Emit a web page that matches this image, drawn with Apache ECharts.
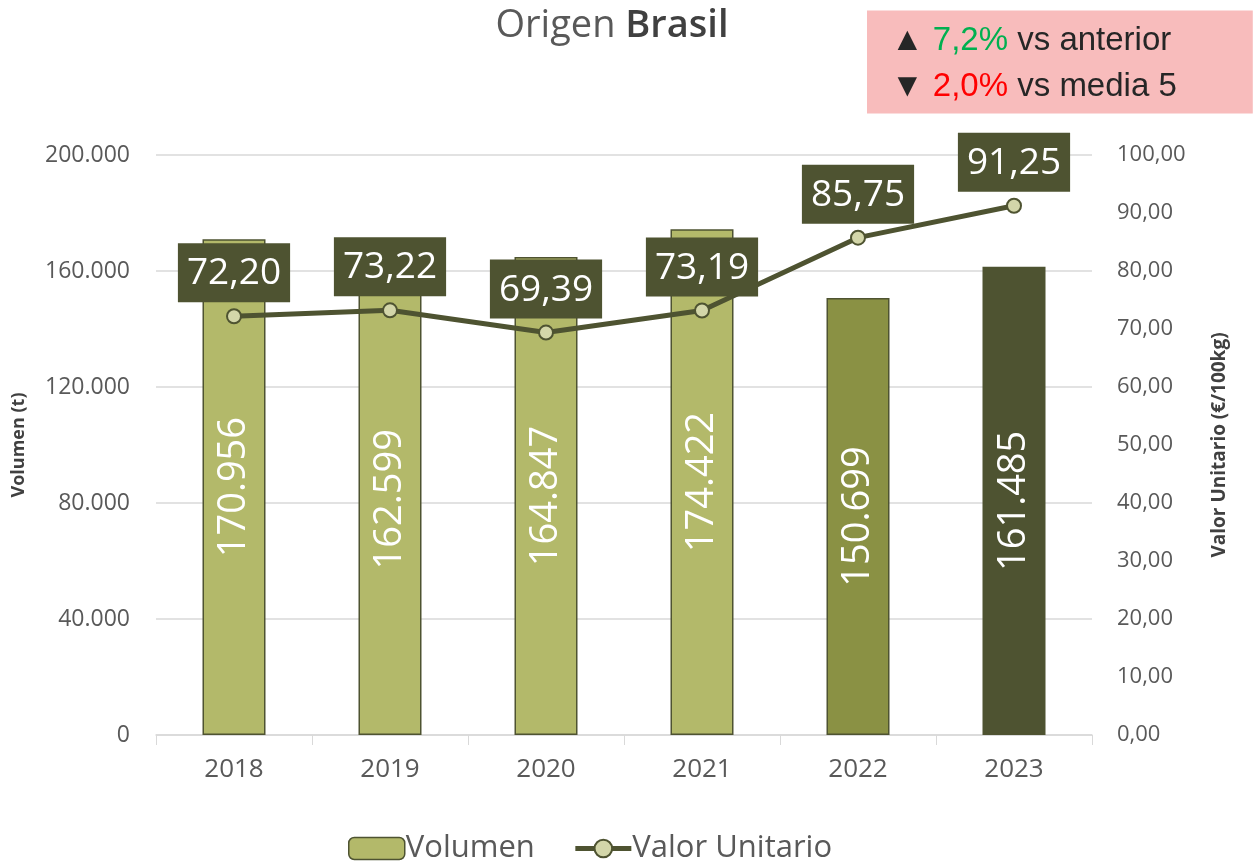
<!DOCTYPE html>
<html>
<head>
<meta charset="utf-8">
<script src="https://cdn.jsdelivr.net/npm/echarts@6/dist/echarts.min.js"></script>
<style>
  html, body { margin: 0; padding: 0; background: #fff; }
  #main { width: 1256px; height: 865px; }
</style>
</head>
<body>
<div id="main"></div>
<script>
// datos del gráfico
var years = ['2018', '2019', '2020', '2021', '2022', '2023'];
var volumen = [170956, 162599, 164847, 174422, 150699, 161485];
var valorUnitario = [72.20, 73.22, 69.39, 73.19, 85.75, 91.25];
var barColors = ['#B3B96A', '#B3B96A', '#B3B96A', '#B3B96A', '#8A9144', '#4E5331'];

var FONT = '"Open Sans", "Noto Sans", sans-serif';
var ARIAL = '"Liberation Sans", Arial, sans-serif';

function fmtMiles(v) {
  return String(Math.round(v)).replace(/\B(?=(\d{3})+(?!\d))/g, '.');
}
function fmtDec(v) {
  return v.toFixed(2).replace('.', ',');
}

var chart = echarts.init(document.getElementById('main'));
chart.setOption({
  animation: false,
  title: [{
    text: '{n|Origen }{b|Brasil}',
    left: 607,
    textAlign: 'center',
    top: 2,
    textStyle: {
      fontWeight: 'normal',
      rich: {
        n: { fontFamily: FONT, fontSize: 38, color: '#595959', fontWeight: 'normal' },
        b: { fontFamily: FONT, fontSize: 38, color: '#404040', fontWeight: 600 }
      }
    }
  }, {
    text: '{t|▲ }{g|7,2%}{t| vs anterior}\n{t|▼ }{r|2,0%}{t| vs media 5}',
    left: 867,
    top: 4,
    backgroundColor: '#F8BCBC',
    padding: [14, 76, 10, 24],
    textStyle: {
      fontWeight: 'normal',
      rich: {
        t: { fontFamily: ARIAL, fontSize: 33, color: '#262626', lineHeight: 46, fontWeight: 'normal' },
        g: { fontFamily: ARIAL, fontSize: 33, color: '#00B050', lineHeight: 46, fontWeight: 'normal' },
        r: { fontFamily: ARIAL, fontSize: 33, color: '#FF0000', lineHeight: 46, fontWeight: 'normal' }
      }
    }
  }],
  legend: {
    bottom: -4,
    left: 343,
    itemWidth: 56,
    itemHeight: 22,
    itemGap: 38,
    textStyle: { fontFamily: FONT, fontSize: 31, color: '#595959', padding: [0, 0, 0, -4] },
    data: [
      { name: 'Volumen', itemStyle: { color: '#B3B96A', borderColor: '#4E5331', borderWidth: 1.5 } },
      { name: 'Valor Unitario', lineStyle: { width: 5, color: '#4E5331' } }
    ]
  },
  grid: { left: 156, right: 164, top: 155, bottom: 130, outerBoundsMode: 'none', containLabel: false },
  xAxis: {
    type: 'category',
    data: years,
    axisLine: { lineStyle: { color: '#D9D9D9', width: 1.5 } },
    axisTick: { show: true, length: 10, lineStyle: { color: '#D9D9D9' } },
    axisLabel: { fontFamily: FONT, fontSize: 26, color: '#595959', margin: 22 }
  },
  yAxis: [{
    type: 'value',
    min: 0, max: 200000, interval: 40000,
    name: 'Volumen (t)',
    nameLocation: 'middle',
    nameRotate: 90,
    nameGap: 128,
    nameTextStyle: { fontFamily: FONT, fontSize: 18, fontWeight: 'bold', color: '#404040' },
    axisLine: { show: false },
    axisTick: { show: false },
    splitLine: { lineStyle: { color: '#D9D9D9', width: 1.5 } },
    axisLabel: { fontFamily: FONT, fontSize: 23, color: '#595959', margin: 26, formatter: fmtMiles }
  }, {
    type: 'value',
    min: 0, max: 100, interval: 10,
    name: 'Valor Unitario (€/100kg)',
    nameLocation: 'middle',
    nameRotate: 90,
    nameGap: 118,
    nameTextStyle: { fontFamily: FONT, fontSize: 19, fontWeight: 'bold', color: '#404040' },
    axisLine: { show: false },
    axisTick: { show: false },
    splitLine: { show: false },
    axisLabel: { fontFamily: FONT, fontSize: 22, color: '#595959', margin: 25, formatter: fmtDec }
  }],
  series: [{
    name: 'Volumen',
    type: 'bar',
    yAxisIndex: 0,
    barWidth: 63,
    data: volumen.map(function (v, i) {
      return { value: v, itemStyle: { color: barColors[i] } };
    }),
    itemStyle: { borderColor: '#4E5331', borderWidth: 1.5 },
    label: {
      show: true,
      position: 'inside',
      rotate: 90,
      fontFamily: FONT,
      fontSize: 38,
      color: '#FFFFFF',
      formatter: function (p) { return fmtMiles(p.value); }
    }
  }, {
    name: 'Valor Unitario',
    type: 'line',
    yAxisIndex: 1,
    data: valorUnitario,
    symbol: 'circle',
    symbolSize: 14,
    lineStyle: { color: '#4E5331', width: 5 },
    itemStyle: { color: '#D3D6A9', borderColor: '#4E5331', borderWidth: 2 },
    label: {
      show: true,
      position: 'top',
      distance: 6,
      fontFamily: FONT,
      fontSize: 37,
      color: '#FFFFFF',
      backgroundColor: '#4E5331',
      padding: [12, 9, 10, 9],
      formatter: function (p) { return fmtDec(p.value); }
    },
    z: 5
  }]
});
</script>
</body>
</html>
